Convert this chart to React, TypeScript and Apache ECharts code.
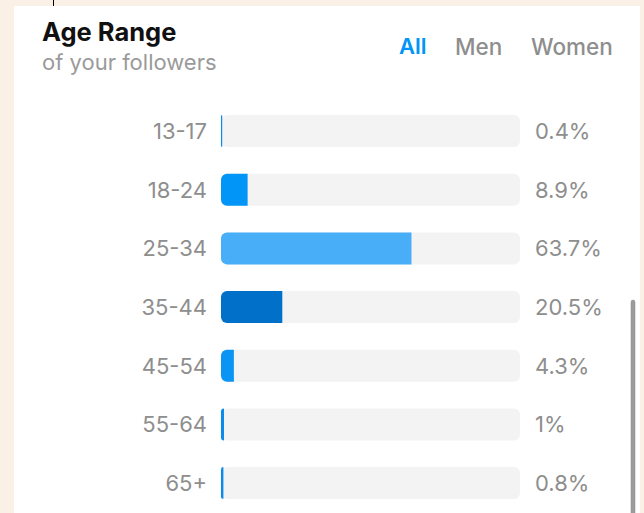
import React, { useEffect, useRef } from "react";
import * as echarts from "echarts";

const categories = ["13-17", "18-24", "25-34", "35-44", "45-54", "55-64", "65+"];
const values = [0.4, 8.9, 63.7, 20.5, 4.3, 1, 0.8];
const valueLabels = ["0.4%", "8.9%", "63.7%", "20.5%", "4.3%", "1%", "0.8%"];
const barColors = ["#0A8BEB", "#0095F6", "#48AEF8", "#0070C9", "#0A94F4", "#0A8BEB", "#0A8BEB"];
const tabs = ["All", "Men", "Women"];

const FONT = "Inter, 'Noto Sans', sans-serif";

export default function App() {
  const ref = useRef<HTMLDivElement>(null);
  useEffect(() => {
    document.body.style.margin = "0";
    const chart = echarts.init(ref.current!, undefined, { renderer: "svg" });
    chart.setOption({
      animation: false,
      backgroundColor: "#FAF0E6",
      graphic: [
        { type: "rect", z: 0, shape: { x: 14, y: 6, width: 626, height: 520 }, style: { fill: "#ffffff" } },
        { type: "line", z: 1, shape: { x1: 53.5, y1: 0, x2: 53.5, y2: 6 }, style: { stroke: "#000", lineWidth: 1 } },
        { type: "text", z: 1, x: 42, y: 31, style: { text: "Age Range", fill: "#111", font: `bold 25.5px ${FONT}`, verticalAlign: "middle" } },
        { type: "text", z: 1, x: 42, y: 62, style: { text: "of your followers", fill: "#9a9a9a", font: `22px ${FONT}`, verticalAlign: "middle" } },
        { type: "text", z: 1, x: 399, y: 46, style: { text: tabs[0], fill: "#0095F6", font: `600 22px ${FONT}`, verticalAlign: "middle" } },
        { type: "text", z: 1, x: 455, y: 46, style: { text: tabs[1], fill: "#8e8e8e", font: `500 22.5px ${FONT}`, verticalAlign: "middle" } },
        { type: "text", z: 1, x: 531, y: 46, style: { text: tabs[2], fill: "#8e8e8e", font: `500 22.5px ${FONT}`, verticalAlign: "middle" } },
        { type: "rect", z: 1, shape: { x: 631, y: 300, width: 4, height: 230, r: 2 }, style: { fill: "#9c9c9c", stroke: "#8a8a8a", lineWidth: 0.5 } },
      ],
      grid: { left: 221, width: 299, top: 101.7, height: 410.7 },
      xAxis: { type: "value", min: 0, max: 100, show: false },
      yAxis: [
        {
          type: "category",
          data: categories,
          inverse: true,
          axisLine: { show: false },
          axisTick: { show: false },
          axisLabel: { color: "#8e8e8e", fontSize: 22, fontFamily: FONT, margin: 14 },
        },
        {
          type: "category",
          data: valueLabels,
          inverse: true,
          position: "right",
          axisLine: { show: false },
          axisTick: { show: false },
          axisLabel: { color: "#8e8e8e", fontSize: 22, fontFamily: FONT, margin: 15, align: "left" },
        },
      ],
      series: [
        {
          type: "bar",
          yAxisIndex: 0,
          barWidth: 32,
          data: values.map((v, i) => ({ value: v, itemStyle: { color: barColors[i] } })),
          itemStyle: { borderRadius: [6, 0, 0, 6] },
          showBackground: true,
          backgroundStyle: { color: "#F3F3F3", borderRadius: 6 },
        },
      ],
    });
    return () => chart.dispose();
  }, []);
  return <div ref={ref} style={{ position: "fixed", left: 0, top: 0, width: 644, height: 513 }} />;
}
